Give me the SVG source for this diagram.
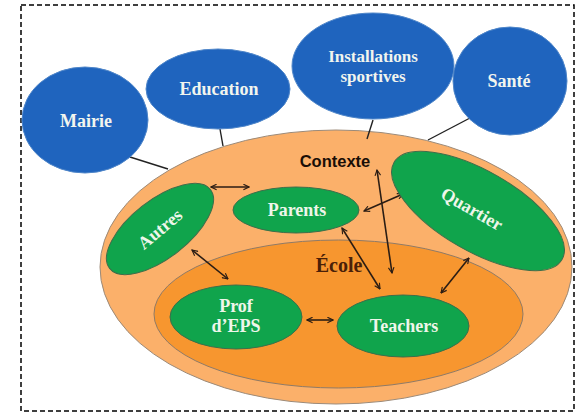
<svg xmlns="http://www.w3.org/2000/svg" width="578" height="414" viewBox="0 0 578 414">
<defs>
<marker id="ah" viewBox="0 0 10 10" refX="9" refY="5" markerWidth="7" markerHeight="7" orient="auto-start-reverse" markerUnits="userSpaceOnUse">
<path d="M1,1 L9,5 L1,9" fill="none" stroke="#2b1d14" stroke-width="1.6"/>
</marker>
</defs>
<style>
.blue{fill:#1f64be;stroke:#4f86c9;stroke-width:1}
.green{fill:#10a44c;stroke:#3d6e4a;stroke-width:1}
.bt{font-family:"Liberation Serif","Times New Roman",serif;font-weight:bold;fill:#f2f5ee;text-anchor:middle}
.gt{font-family:"Liberation Serif","Times New Roman",serif;font-weight:bold;font-size:18px;fill:#eef6ea;text-anchor:middle}
.link{stroke:#222;stroke-width:1.4;fill:none}
.arr{stroke:#2b1d14;stroke-width:1.6;fill:none;marker-start:url(#ah);marker-end:url(#ah)}
</style>
<rect x="21" y="5" width="553" height="406" fill="#fff" stroke="#000" stroke-width="1.5" stroke-dasharray="5,3"/>
<g id="contexte">
<ellipse cx="336" cy="267" rx="236" ry="137" fill="#fbb06a" stroke="#9c8a78" stroke-width="1"/>
<text x="335" y="167" font-family="'Liberation Sans',Arial,sans-serif" font-weight="bold" font-size="16.5" fill="#1a0e06" text-anchor="middle">Contexte</text>
</g>
<g id="ecole">
<ellipse cx="338.5" cy="314" rx="184.5" ry="74" fill="#f7962f" stroke="#8f7a66" stroke-width="1"/>
<text x="339" y="272" font-family="'Liberation Serif','Times New Roman',serif" font-weight="bold" font-size="20" fill="#4a2008" text-anchor="middle">École</text>
</g>
<g id="connectors">
<line class="link" x1="130" y1="157" x2="168" y2="169"/>
<line class="link" x1="220" y1="129" x2="223" y2="146"/>
<line class="link" x1="373" y1="120" x2="367" y2="139"/>
<line class="link" x1="470" y1="118" x2="428" y2="140"/>
<line class="arr" x1="211" y1="187" x2="249" y2="187"/>
<line class="arr" x1="192" y1="250" x2="228" y2="279"/>
<line class="arr" x1="307" y1="320" x2="333" y2="320"/>
<line class="arr" x1="342" y1="228" x2="380" y2="289"/>
<line class="arr" x1="377" y1="170" x2="392" y2="273"/>
<line class="arr" x1="364" y1="211" x2="403" y2="194"/>
<line class="arr" x1="469" y1="258" x2="441" y2="293"/>
</g>
<g id="mairie">
<ellipse class="blue" cx="85" cy="120" rx="63" ry="53"/>
<text class="bt" x="86" y="127" font-size="18">Mairie</text>
</g>
<g id="education">
<ellipse class="blue" cx="218" cy="89" rx="72" ry="40"/>
<text class="bt" x="219" y="95" font-size="18">Education</text>
</g>
<g id="installations">
<ellipse class="blue" cx="373" cy="66" rx="81" ry="53"/>
<text class="bt" x="373" y="62" font-size="17">Installations</text>
<text class="bt" x="373" y="82" font-size="17">sportives</text>
</g>
<g id="sante">
<ellipse class="blue" cx="510" cy="81" rx="57" ry="54"/>
<text class="bt" x="509" y="87" font-size="18">Santé</text>
</g>
<g id="autres">
<ellipse class="green" cx="160" cy="229" rx="64" ry="29" transform="rotate(-38 160 229)"/>
<text class="gt" x="160" y="235" transform="rotate(-40 160 229)">Autres</text>
</g>
<g id="parents">
<ellipse class="green" cx="296" cy="210" rx="63" ry="23"/>
<text class="gt" x="297" y="216">Parents</text>
</g>
<g id="quartier">
<ellipse class="green" cx="478" cy="211" rx="97" ry="40" transform="rotate(30 478 211)"/>
<text class="gt" x="472" y="215" transform="rotate(30 472 209)">Quartier</text>
</g>
<g id="prof">
<ellipse class="green" cx="236" cy="317" rx="66" ry="32"/>
<text class="gt" x="236" y="312">Prof</text>
<text class="gt" x="236" y="332">d’EPS</text>
</g>
<g id="teachers">
<ellipse class="green" cx="403" cy="326" rx="66" ry="31"/>
<text class="gt" x="404" y="332">Teachers</text>
</g>
</svg>
